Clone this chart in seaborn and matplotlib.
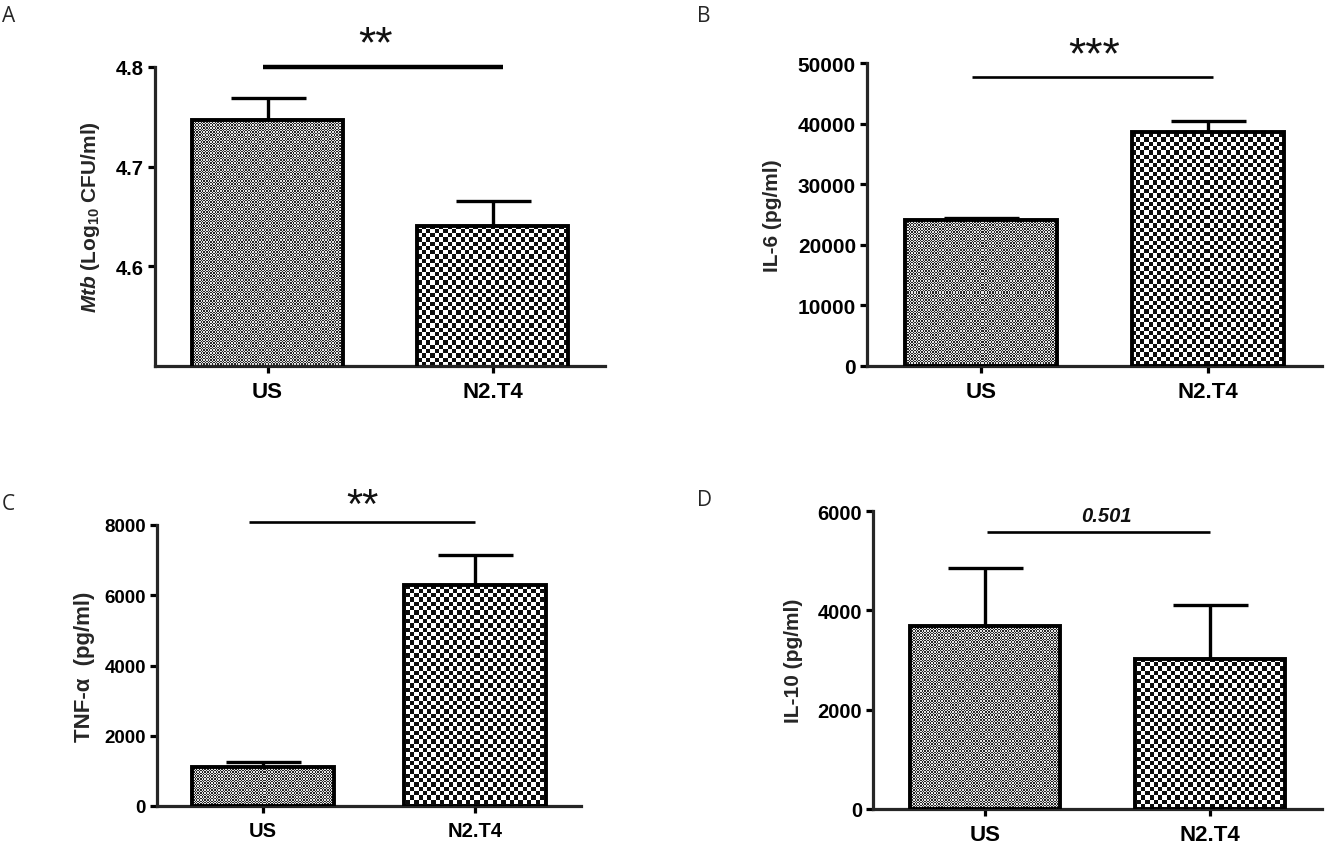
import numpy as np
import pandas as pd
import matplotlib
matplotlib.use("Agg")
import matplotlib.pyplot as plt
import seaborn as sns
from matplotlib.colors import ListedColormap

# ---------------- data ----------------
groups = ["US", "N2.T4"]

mtb_mean = [4.747, 4.640]
mtb_sem = [0.022, 0.026]

il6_mean = [24100, 38600]
il6_sem = [350, 1800]

tnf_mean = [1110, 6290]
tnf_sem = [140, 855]

il10_mean = [3685, 3020]
il10_sem = [1167, 1087]

sig_labels = ["**", "***", "**", "0.501"]
panel_letters = ["A", "B", "C", "D"]

# ---------------- style ----------------
sns.set_style("ticks")
plt.rcParams["font.family"] = ["Liberation Sans", "DejaVu Sans"]
plt.rcParams["font.weight"] = "bold"
plt.rcParams["axes.labelweight"] = "bold"
plt.rcParams["mathtext.fontset"] = "custom"
plt.rcParams["mathtext.it"] = "Liberation Sans:italic:bold"
plt.rcParams["mathtext.rm"] = "Liberation Sans:bold"

W, H = 1332, 845
fig = plt.figure(figsize=(W / 100, H / 100), dpi=100)
fig.patch.set_facecolor("white")


def px_axes(left, top, right, bottom):
    return fig.add_axes([left / W, 1 - bottom / H, (right - left) / W, (bottom - top) / H])


def checker_fill(ax, patch, cell, dark, light):
    # checkerboard texture at screen-pixel resolution, clipped to the bar
    x0, y0 = patch.get_x(), patch.get_y()
    w, h = patch.get_width(), patch.get_height()
    ylo = max(y0, ax.get_ylim()[0])
    px0, py0 = ax.transData.transform((x0, ylo))
    px1, py1 = ax.transData.transform((x0 + w, y0 + h))
    nx = max(1, int(round(px1 - px0)))
    ny = max(1, int(round(py1 - py0)))
    ix = np.arange(nx) + np.floor(px0)
    iy = np.arange(ny) + np.floor(py0)
    board = (np.floor(iy[:, None] / cell) + np.floor(ix[None, :] / cell)) % 2
    im = ax.imshow(board, cmap=ListedColormap([light, dark]), extent=(x0, x0 + w, ylo, y0 + h),
                   origin="lower", interpolation="nearest", aspect="auto", zorder=2)
    im.set_clip_path(patch)


panels = [
    dict(box=(155, 68, 605, 367), mean=mtb_mean, sem=mtb_sem, ylim=(4.5, 4.8),
         yticks=[4.6, 4.7, 4.8], ylabel=r"$\mathit{Mtb}$ (Log$_{10}$ CFU/ml)", ylab_size=15,
         ytick_size=14.5, xtick_size=16, ylab_x=-0.143,
         line=(-0.02, 1.045, 4.8), line_w=3.2, sig_xy=(0.48, 4.811), sig_size=32,
         sig_style="normal", sig_weight="normal", letter_xy=(2, 17)),
    dict(box=(867, 64, 1322, 367), mean=il6_mean, sem=il6_sem, ylim=(0, 50000),
         yticks=np.arange(0, 50001, 10000), ylabel="IL-6 (pg/ml)", ylab_size=15,
         ytick_size=15, xtick_size=16, ylab_x=-0.207,
         line=(-0.04, 1.02, 47700), line_w=1.9, sig_xy=(0.5, 49300), sig_size=32,
         sig_style="normal", sig_weight="normal", letter_xy=(697, 17)),
    dict(box=(157, 526, 581, 807), mean=tnf_mean, sem=tnf_sem, ylim=(0, 8000),
         yticks=np.arange(0, 8001, 2000), ylabel="TNF-α  (pg/ml)", ylab_size=16,
         ytick_size=13.5, xtick_size=14.5, ylab_x=-0.172,
         line=(-0.066, 1.0, 8085), line_w=1.9, sig_xy=(0.47, 8230), sig_size=30,
         sig_style="normal", sig_weight="normal", letter_xy=(2, 505)),
    dict(box=(873, 512, 1322, 810), mean=il10_mean, sem=il10_sem, ylim=(0, 6000),
         yticks=np.arange(0, 6001, 2000), ylabel="IL-10 (pg/ml)", ylab_size=15,
         ytick_size=14.5, xtick_size=16, ylab_x=-0.176,
         line=(0.01, 1.0, 5577), line_w=1.9, sig_xy=(0.54, 5800), sig_size=14.5,
         sig_style="italic", sig_weight="bold", letter_xy=(697, 501)),
]

textures = [(1.4, "#262626", "#e4e4e4"), (4.3, "#0c0c0c", "#ffffff")]

for i, p in enumerate(panels):
    ax = px_axes(*p["box"])
    df = pd.DataFrame({"group": groups, "value": p["mean"]})
    sns.barplot(data=df, x="group", y="value", ax=ax, color="white", edgecolor="black",
                linewidth=2.8, width=0.67, errorbar=None, saturation=1)
    ax.set_xlim(-0.5, 1.5)
    ax.set_ylim(*p["ylim"])
    ax.set_yticks(p["yticks"])
    ax.set_yticklabels([f"{t:g}" for t in p["yticks"]])

    # upper-only error bars
    ax.errorbar([0, 1], p["mean"], yerr=[[0, 0], p["sem"]], fmt="none", ecolor="black",
                elinewidth=2.4, capsize=27, capthick=2.4, zorder=1)

    # checker textures for the two bars
    for patch, (cell, dark, light) in zip(ax.patches, textures):
        patch.set_facecolor("none")
        patch.set_zorder(3)
        checker_fill(ax, patch, cell, dark, light)
    ax.set_xlim(-0.5, 1.5)
    ax.set_ylim(*p["ylim"])

    sns.despine(ax=ax)
    for side in ["left", "bottom"]:
        ax.spines[side].set_linewidth(2.3)
    ax.tick_params(axis="both", direction="out", length=5, width=2.3, colors="black")
    ax.tick_params(axis="y", pad=3, labelsize=p["ytick_size"])
    ax.tick_params(axis="x", pad=6, labelsize=p["xtick_size"])
    for lab in ax.get_xticklabels() + ax.get_yticklabels():
        lab.set_fontweight("bold")

    ax.set_xlabel("")
    ax.set_ylabel(p["ylabel"], fontsize=p["ylab_size"], fontweight="bold")
    ax.yaxis.label.set_verticalalignment("center")
    ax.yaxis.set_label_coords(p["ylab_x"], 0.5)

    # significance bar and label
    x0, x1, ly = p["line"]
    ax.plot([x0, x1], [ly, ly], color="black", lw=p["line_w"], clip_on=False,
            solid_capstyle="butt")
    sx, sy = p["sig_xy"]
    ax.text(sx, sy, sig_labels[i], ha="center", va="baseline", fontsize=p["sig_size"],
            fontweight=p["sig_weight"], fontstyle=p["sig_style"], color="#111111",
            clip_on=False)

    lx, lyy = p["letter_xy"]
    fig.text(lx / W, 1 - lyy / H, panel_letters[i], ha="left", va="center", fontsize=15,
             fontweight="normal", family=["Open Sans", "DejaVu Sans"])

fig.savefig("out.png", dpi=100, facecolor="white")
